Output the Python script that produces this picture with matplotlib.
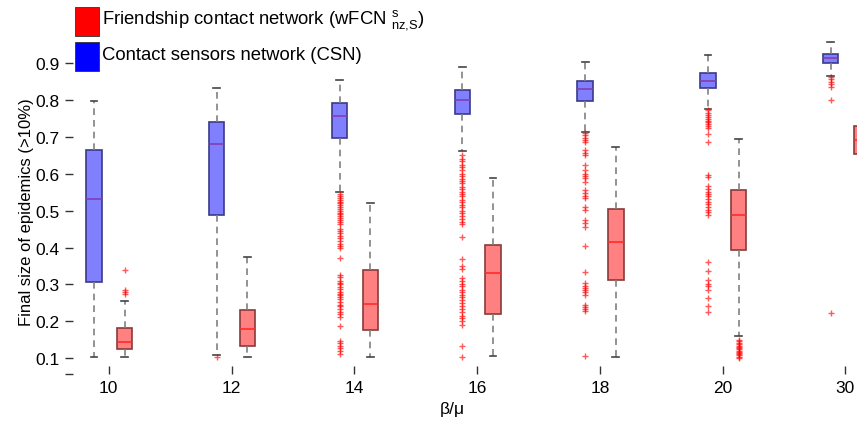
import matplotlib
matplotlib.use("Agg")
import matplotlib.pyplot as plt
import matplotlib.patches as patches

plt.rcParams['font.family'] = ['Liberation Sans', 'DejaVu Sans']
plt.rcParams['mathtext.fontset'] = 'custom'
plt.rcParams['mathtext.rm'] = 'Liberation Sans'

beta_mu = ['10', '12', '14', '16', '18', '20', '30']

# Contact sensors network (CSN) box statistics
csn_lo = [0.103, 0.109, 0.552, 0.662, 0.715, 0.777, 0.867]
csn_q1 = [0.306, 0.489, 0.697, 0.762, 0.799, 0.833, 0.902]
csn_med = [0.531, 0.680, 0.758, 0.801, 0.830, 0.853, 0.914]
csn_q3 = [0.665, 0.740, 0.793, 0.829, 0.853, 0.873, 0.927]
csn_hi = [0.797, 0.834, 0.854, 0.891, 0.905, 0.924, 0.959]
csn_out = [
    [],
    [0.103],
    [0.545, 0.54, 0.535, 0.53, 0.525, 0.52, 0.515, 0.51, 0.505, 0.50, 0.495,
     0.49, 0.485, 0.48, 0.475, 0.47, 0.465, 0.45, 0.445, 0.44, 0.432, 0.425,
     0.418, 0.41, 0.405, 0.40, 0.372, 0.326, 0.32, 0.31, 0.305, 0.30, 0.293,
     0.287, 0.28, 0.275, 0.27, 0.265, 0.26, 0.252, 0.245, 0.24, 0.233, 0.225,
     0.22, 0.212, 0.188, 0.147, 0.14, 0.133, 0.126, 0.118, 0.11],
    [0.652, 0.64, 0.635, 0.625, 0.62, 0.61, 0.60, 0.595, 0.585, 0.58, 0.575,
     0.565, 0.56, 0.55, 0.545, 0.54, 0.53, 0.525, 0.515, 0.51, 0.50, 0.495,
     0.485, 0.478, 0.47, 0.465, 0.43, 0.368, 0.35, 0.342, 0.317, 0.31, 0.30,
     0.295, 0.285, 0.28, 0.272, 0.265, 0.258, 0.25, 0.24, 0.232, 0.225, 0.215,
     0.208, 0.20, 0.19, 0.133, 0.102],
    [0.71, 0.705, 0.698, 0.693, 0.688, 0.665, 0.658, 0.651, 0.624, 0.61, 0.60,
     0.595, 0.588, 0.579, 0.556, 0.548, 0.54, 0.534, 0.511, 0.502, 0.475,
     0.466, 0.457, 0.403, 0.333, 0.303, 0.295, 0.29, 0.285, 0.278, 0.272,
     0.245, 0.238, 0.232, 0.227, 0.105],
    [0.773, 0.765, 0.76, 0.755, 0.75, 0.745, 0.74, 0.735, 0.73, 0.724, 0.708,
     0.688, 0.597, 0.593, 0.566, 0.56, 0.552, 0.545, 0.54, 0.532, 0.525, 0.518,
     0.51, 0.503, 0.496, 0.489, 0.362, 0.335, 0.312, 0.302, 0.295, 0.285,
     0.264, 0.242, 0.225],
    [0.863, 0.857, 0.85, 0.845, 0.837, 0.802, 0.222],
]

# Friendship contact network (wFCN) box statistics
fcn_lo = [0.103, 0.102, 0.102, 0.106, 0.102, 0.161, 0.58]
fcn_q1 = [0.124, 0.133, 0.177, 0.220, 0.312, 0.392, 0.654]
fcn_med = [0.143, 0.179, 0.246, 0.332, 0.416, 0.489, 0.692]
fcn_q3 = [0.182, 0.230, 0.339, 0.408, 0.506, 0.555, 0.731]
fcn_hi = [0.255, 0.374, 0.522, 0.589, 0.672, 0.695, 0.80]
fcn_out = [
    [0.339, 0.284, 0.279, 0.274],
    [],
    [],
    [],
    [],
    [0.15, 0.145, 0.14, 0.137, 0.133, 0.13, 0.127, 0.124, 0.12, 0.117, 0.114,
     0.11, 0.107, 0.104, 0.101],
    [],
]


def make_stats(lo, q1, med, q3, hi, out):
    return [dict(whislo=a, q1=b, med=c, q3=d, whishi=e, fliers=f)
            for a, b, c, d, e, f in zip(lo, q1, med, q3, hi, out)]


W, H = 857, 427
fig = plt.figure(figsize=(W / 100, H / 100), dpi=100)

# axes placed in pixels; it runs past the right edge of the canvas
left, right, top, bottom = 65, 905, 31, 375
ax = fig.add_axes([left / W, 1 - bottom / H, (right - left) / W, (bottom - top) / H])

pos = list(range(1, len(beta_mu) + 1))
width = 0.125
whisk = dict(color='#808080', linestyle=(0, (4, 3)), linewidth=1.2)
caps = dict(color='#444444', linewidth=1.2)


def draw(stats, offset, face, edge, medc):
    ax.bxp(stats, positions=[p + offset for p in pos], widths=width,
           patch_artist=True, capwidths=0.055,
           boxprops=dict(facecolor=face, edgecolor=edge, linewidth=1.2),
           medianprops=dict(color=medc, linewidth=1.2),
           whiskerprops=whisk, capprops=caps,
           flierprops=dict(marker='+', markeredgecolor='red', markersize=5,
                           markeredgewidth=1, alpha=0.65, linestyle='none'))


draw(make_stats(csn_lo, csn_q1, csn_med, csn_q3, csn_hi, csn_out), -0.12,
     '#8080ff', '#3a3a8a', '#8040b0')
draw(make_stats(fcn_lo, fcn_q1, fcn_med, fcn_q3, fcn_hi, fcn_out), 0.13,
     '#ff8080', '#8a3a3a', '#ff2a2a')

ax.set_xlim(0.644, 7.485)
ax.set_ylim(0.0565, 0.991)
for s in ax.spines.values():
    s.set_visible(False)

ax.set_xticks(pos)
ax.set_xticklabels(beta_mu)
yt = [0.0565, 0.1, 0.2, 0.3, 0.4, 0.5, 0.6, 0.7, 0.8, 0.9]
ax.set_yticks(yt)
ax.set_yticklabels([''] + ['%.1f' % v for v in yt[1:]])
ax.tick_params(direction='in', length=6, width=1, color='#333333',
               labelsize=12.5, pad=4)

ax.set_xlabel('β/μ', fontsize=12.5)
ax.xaxis.set_label_coords(0.461, -0.078)
ax.set_ylabel('Final size of epidemics (>10%)', fontsize=12)
ax.yaxis.set_label_coords(-0.037, 0.474)

# legend drawn by hand as two filled squares with text
def px(x, y):
    return x / W, 1 - y / H


legend_items = [
    ('red', r'Friendship contact network (wFCN $^{\mathregular{s}}_{\mathregular{nz{,}S}}$)', 8),
    ('blue', 'Contact sensors network (CSN)', 43),
]
for color, label, ytop in legend_items:
    x0, y0 = px(75, ytop + 29)
    fig.add_artist(patches.Rectangle((x0, y0), 24 / W, 29 / H, facecolor=color,
                                     edgecolor='#333333', linewidth=0.6,
                                     transform=fig.transFigure))
    tx, ty = px(102, ytop + 12)
    fig.text(tx, ty, label, fontsize=13.3, va='center', ha='left')

fig.savefig('out.png', dpi=100)
